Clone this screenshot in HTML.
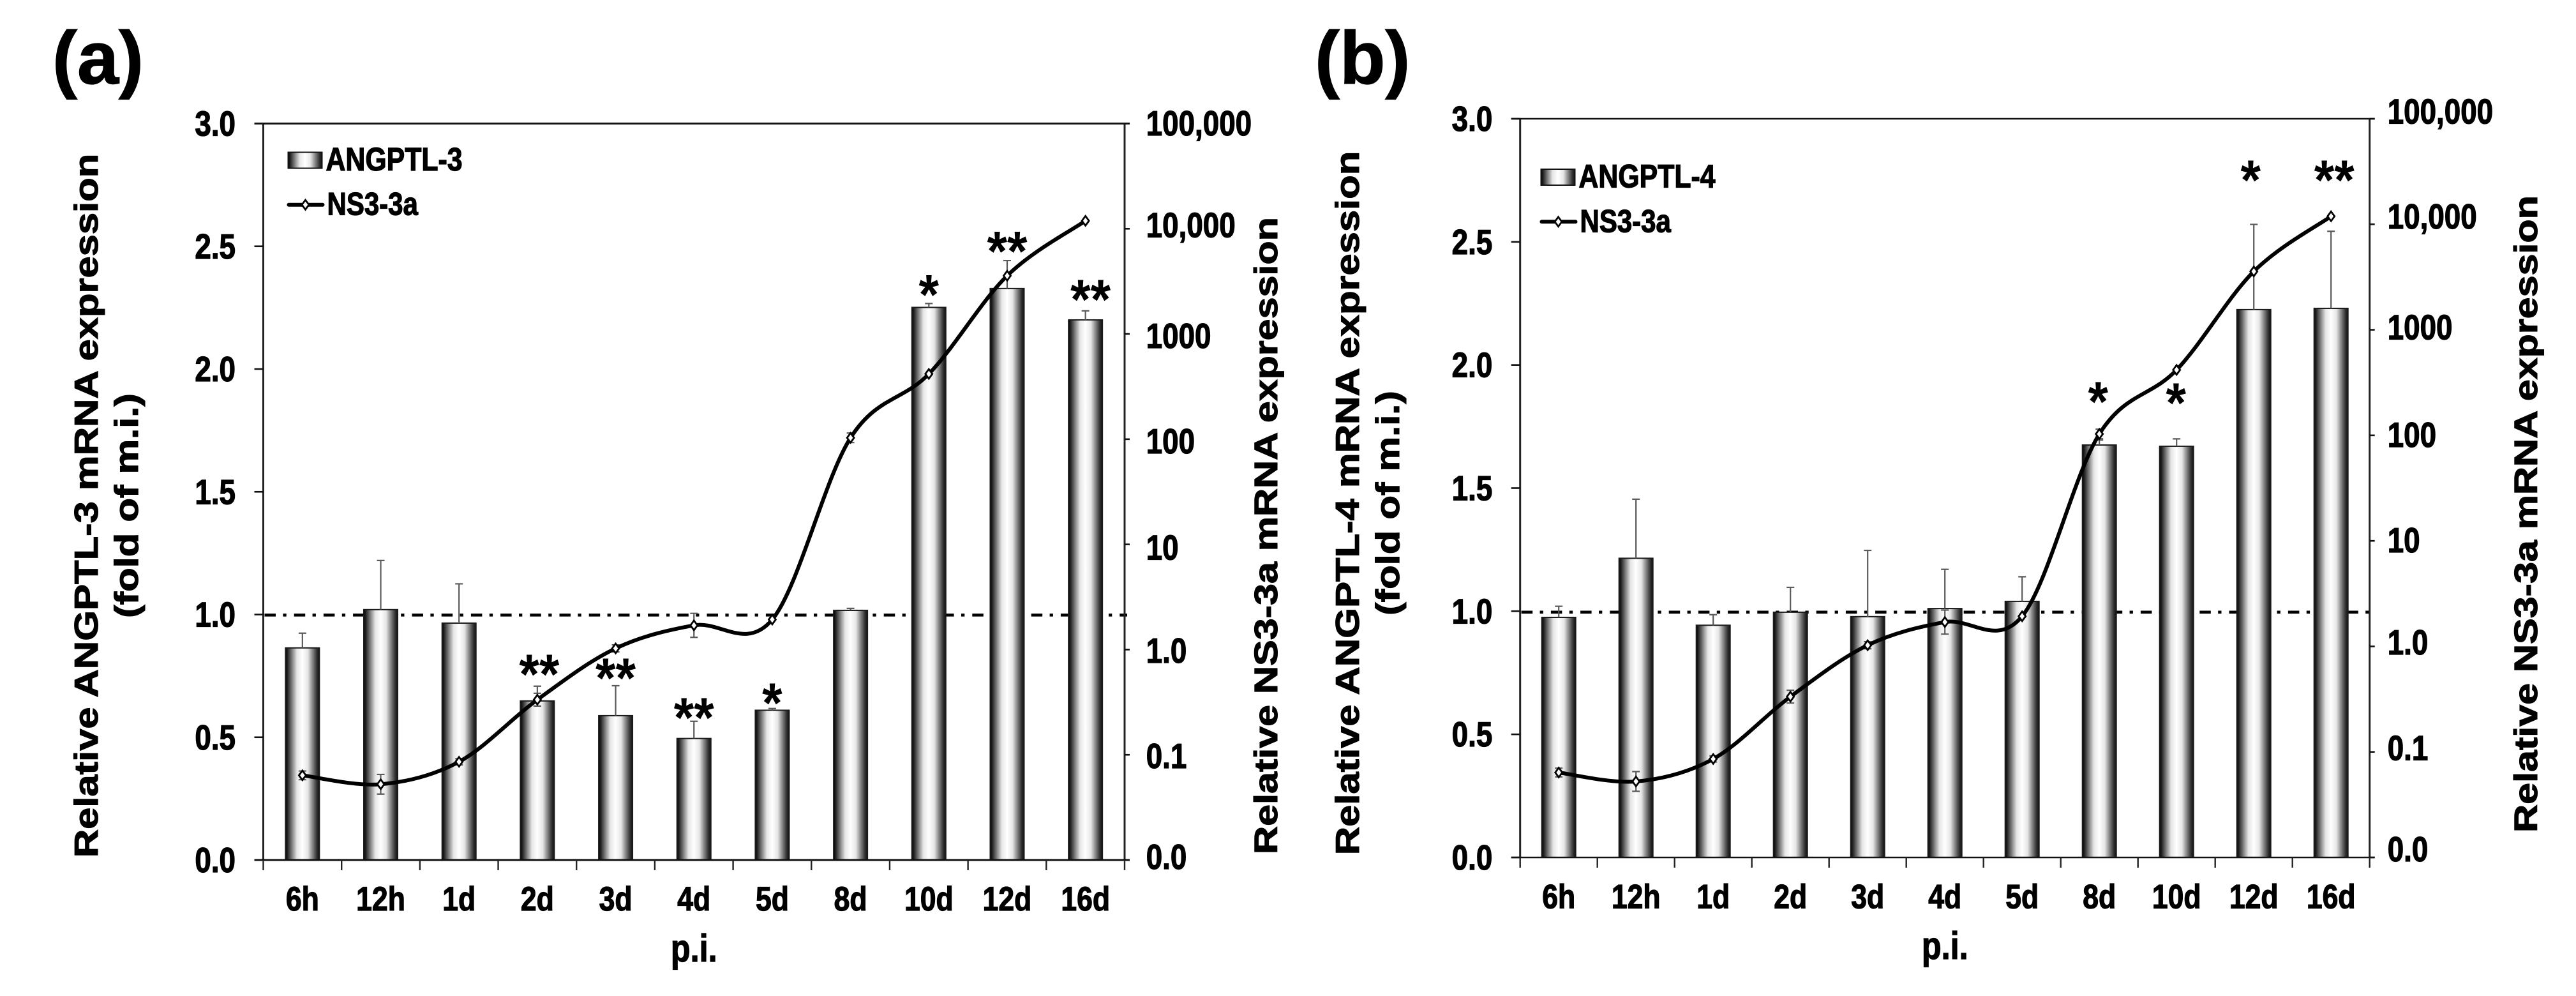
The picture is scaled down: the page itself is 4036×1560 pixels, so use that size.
<!DOCTYPE html>
<html lang="en">
<head>
<meta charset="utf-8">
<title>ANGPTL-3 and ANGPTL-4 mRNA expression with NS3-3a</title>
<style>
html,body{margin:0;padding:0;background:#fff;width:4036px;height:1560px;overflow:hidden}
svg{display:block}
text{font-family:"Liberation Sans",Arial,sans-serif;font-weight:bold;fill:#000;stroke:#000;stroke-width:1.3px}
</style>
</head>
<body>
<svg id="figure" xmlns="http://www.w3.org/2000/svg" width="4036" height="1560" viewBox="0 0 4036 1560">
<defs>
<linearGradient id="barGrad" x1="0" y1="0" x2="1" y2="0">
<stop offset="0" stop-color="#000"/>
<stop offset="0.07" stop-color="#2a2a2a"/>
<stop offset="0.2" stop-color="#858585"/>
<stop offset="0.34" stop-color="#e6e6e6"/>
<stop offset="0.5" stop-color="#fff"/>
<stop offset="0.66" stop-color="#e6e6e6"/>
<stop offset="0.8" stop-color="#858585"/>
<stop offset="0.93" stop-color="#2f2f2f"/>
<stop offset="1" stop-color="#111"/>
</linearGradient>
</defs>
</svg>
<script>
var categories = ['6h','12h','1d','2d','3d','4d','5d','8d','10d','12d','16d'];
var leftTickLabels = ['0.0','0.5','1.0','1.5','2.0','2.5','3.0'];
var leftTickValues = [0,0.5,1,1.5,2,2.5,3];
var rightTickLabels = ['0.0','0.1','1.0','10','100','1000','10,000','100,000'];
var rightTickValues = [0.01,0.1,1,10,100,1000,10000,100000];

var barValuesA = [0.864,1.02,0.965,0.648,0.588,0.495,0.61,1.017,2.251,2.328,2.2];
var barErrorsA = [0.06,0.2,0.16,0.06,0.122,0.07,0.007,0.008,0.016,0.114,0.037];
var starsA = ['','','','**','**','**','*','','*','**','**'];
var starLevelsA = [0,0,0,0.754,0.739,0.578,0.637,0,2.30,2.477,2.281];

var barValuesB = [0.975,1.215,0.943,0.996,0.978,1.011,1.04,1.675,1.67,2.225,2.23];
var barErrorsB = [0.045,0.24,0.043,0.101,0.269,0.159,0.1,0.02,0.03,0.346,0.313];
var starsB = ['','','','','','','','*','*','*','**'];
var starLevelsB = [0,0,0,0,0,0,0,1.849,1.844,2.749,2.749];

var ns3Values = [0.0638,0.0525,0.0858,0.334,1.026,1.7,1.93,103,417,3575,11900];
var ns3ErrorFactors = [1.10,1.24,1.07,1.15,1.08,1.30,1,1.11,1,1,1];

var referenceLevel = 1;

var SVGNS = 'http://www.w3.org/2000/svg';
var SX = 0.84;
var root = document.getElementById('figure');

function mk(tag, attrs, parent) {
  var el = document.createElementNS(SVGNS, tag);
  for (var k in attrs) { el.setAttribute(k, attrs[k]); }
  parent.appendChild(el);
  return el;
}
function txt(parent, str, x, y, size, anchor, sx, rot) {
  var el = mk('text', {
    'font-size': size,
    'text-anchor': anchor || 'start',
    transform: 'translate(' + x + ',' + y + ') scale(' + (sx || SX) + ',1)' + (rot ? ' rotate(' + rot + ')' : '')
  }, parent);
  el.textContent = str;
  return el;
}
function smoothPath(pts) {
  var d = 'M' + pts[0][0].toFixed(2) + ' ' + pts[0][1].toFixed(2);
  for (var i = 0; i < pts.length - 1; i++) {
    var p0 = pts[Math.max(i - 1, 0)], p1 = pts[i], p2 = pts[i + 1], p3 = pts[Math.min(i + 2, pts.length - 1)];
    var c1x = p1[0] + (p2[0] - p0[0]) / 6, c1y = p1[1] + (p2[1] - p0[1]) / 6;
    var c2x = p2[0] - (p3[0] - p1[0]) / 6, c2y = p2[1] - (p3[1] - p1[1]) / 6;
    d += 'C' + c1x.toFixed(2) + ' ' + c1y.toFixed(2) + ' ' + c2x.toFixed(2) + ' ' + c2y.toFixed(2) + ' ' + p2[0].toFixed(2) + ' ' + p2[1].toFixed(2);
  }
  return d;
}
function diamondPath(cx, cy) {
  return 'M' + cx + ' ' + (cy - 7.5) + 'L' + (cx + 5.5) + ' ' + cy + 'L' + cx + ' ' + (cy + 7.5) + 'L' + (cx - 5.5) + ' ' + cy + 'Z';
}

function drawPanel(cfg) {
  var g = mk('g', {}, root);
  
  

  var L = cfg.left, R = cfg.right, T = cfg.top, B = cfg.bottom;
  var slot = (R - L) / categories.length;
  var barW = 53;
  function xCat(i) { return L + slot * (i + 0.5); }
  function yLeft(v) { return B - (v / 3) * (B - T); }
  function yRight(v) { return B - ((Math.log(v) / Math.LN10 + 2) / 7) * (B - T); }

  // panel letter
  var letter = txt(g, cfg.letter, cfg.letterX, 131, 117, 'start', 1);
  
  

  // reference line, behind bars
  var ref = mk('line', {
    x1: L + 2, x2: R + 4, y1: yLeft(referenceLevel) + cfg.refNudge, y2: yLeft(referenceLevel) + cfg.refNudge,
    stroke: '#000', 'stroke-width': 4.6, 'stroke-dasharray': '17.5 11.4 5.3 12'
  }, g);
  
  

  // bars and their error bars
  categories.forEach(function (c, i) {
    var x = xCat(i), y = yLeft(cfg.bars[i]);
    var bar = mk('rect', { x: x - barW / 2, y: y, width: barW, height: B - y, fill: 'url(#barGrad)', stroke: '#1a1a1a', 'stroke-width': 2 }, g);
    
    
    var top = yLeft(cfg.bars[i] + cfg.errs[i]);
    var err = mk('path', { d: 'M' + x + ' ' + y + 'V' + top + 'M' + (x - 6) + ' ' + top + 'H' + (x + 6), fill: 'none', stroke: '#5a5a5a', 'stroke-width': 2.2 }, g);
    
    
  });

  // axes
  var axes = mk('path', {
    d: 'M' + L + ' ' + T + 'V' + B + 'M' + R + ' ' + T + 'V' + B,
    fill: 'none', stroke: '#222', 'stroke-width': 3
  }, g);
  
  
  var frame = mk('path', {
    d: 'M' + (L - 14) + ' ' + T + 'H' + (R + 8) + 'M' + (L - 14) + ' ' + B + 'H' + (R + 8),
    fill: 'none', stroke: '#111', 'stroke-width': cfg.frameW
  }, g);
  
  

  // left ticks
  leftTickValues.forEach(function (v, i) {
    var y = yLeft(v);
    var t = mk('line', { x1: L - 14, x2: L, y1: y, y2: y, stroke: '#111', 'stroke-width': 2.6 }, g);
    
    
    var lb = txt(g, leftTickLabels[i], cfg.leftLabelX, y + 19, 54.5, 'end');
    
    
  });
  // right ticks
  rightTickValues.forEach(function (v, i) {
    var y = yRight(v);
    var t = mk('line', { x1: R, x2: R + 8, y1: y, y2: y, stroke: '#111', 'stroke-width': 2.6 }, g);
    
    
    var lb = txt(g, rightTickLabels[i], cfg.rightLabelX, y + cfg.rightLabelShift[i], 54.5, 'start');
    
    
  });
  // category ticks and labels
  for (var k = 0; k <= categories.length; k++) {
    var tx = L + slot * k;
    var ct = mk('line', { x1: tx, x2: tx, y1: B, y2: B + 16, stroke: '#222', 'stroke-width': 2.4 }, g);
    
    
  }
  categories.forEach(function (c, i) {
    var lb = txt(g, c, xCat(i), B + cfg.catDrop, 53, 'middle');
    
    
  });

  // NS3-3a error bars
  ns3Values.forEach(function (v, i) {
    var f = ns3ErrorFactors[i];
    if (f <= 1) { return; }
    var x = xCat(i), hi = yRight(v * f), lo = yRight(v / f);
    var e = mk('path', { d: 'M' + x + ' ' + hi + 'V' + lo + 'M' + (x - 6) + ' ' + hi + 'H' + (x + 6) + 'M' + (x - 6) + ' ' + lo + 'H' + (x + 6), fill: 'none', stroke: '#5a5a5a', 'stroke-width': 2.2 }, g);
    
    
  });

  // NS3-3a smooth line
  var pts = ns3Values.map(function (v, i) { return [xCat(i), yRight(v)]; });
  var line = mk('path', { d: smoothPath(pts), fill: 'none', stroke: '#000', 'stroke-width': 6, 'stroke-linecap': 'round' }, g);
  
  
  pts.forEach(function (p, i) {
    var m = mk('path', { d: diamondPath(p[0], p[1]), fill: '#fff', stroke: '#000', 'stroke-width': 2.8 }, g);
    
    
  });

  // significance stars
  cfg.stars.forEach(function (s, i) {
    if (!s) { return; }
    var st = txt(g, s, xCat(i) + cfg.starDx[i], yLeft(cfg.starLevels[i]) + 29, 88, 'middle', 0.92);
    st.style.strokeWidth = '0';
    
    
  });

  // titles
  var t1 = txt(g, cfg.leftTitle, cfg.leftTitleX, cfg.leftTitleY, 61.5, 'middle', SX, -90);
  
  
  var t2 = txt(g, '(fold of m.i.)', cfg.subTitleX, cfg.leftTitleY, 61.5, 'middle', SX, -90);
  
  
  var t3 = txt(g, 'Relative NS3-3a mRNA expression', cfg.rightTitleX, cfg.rightTitleY, 61, 'middle', SX, -90);
  
  
  var t4 = txt(g, 'p.i.', (L + R) / 2, cfg.xTitleY, 60, 'middle');
  
  

  // legend
  var sw = mk('rect', { x: cfg.legX, y: cfg.legBarY, width: 53, height: 25, fill: 'url(#barGrad)', stroke: '#111', 'stroke-width': 2 }, g);
  
  
  var lt1 = txt(g, cfg.barName, cfg.legX + 59, cfg.legBarY + 28.5, 51, 'start');
  
  
  var ll = mk('line', { x1: cfg.legX + 1, x2: cfg.legX + 54, y1: cfg.legLineY, y2: cfg.legLineY, stroke: '#000', 'stroke-width': 6, 'stroke-linecap': 'round' }, g);
  
  
  var lm = mk('path', { d: diamondPath(cfg.legX + 27, cfg.legLineY), fill: '#fff', stroke: '#000', 'stroke-width': 2.8 }, g);
  
  
  var lt2 = txt(g, 'NS3-3a', cfg.legX + 61, cfg.legLineY + 16, 50, 'start');
  
  
}

drawPanel({
  id: 'a', letter: '(a)', letterX: 82,
  left: 412.5, right: 1762, top: 193.5, bottom: 1347,
  bars: barValuesA, errs: barErrorsA, stars: starsA, starLevels: starLevelsA,
  starDx: [0,0,0,3,0,0,0,0,0,0,8],
  refNudge: 0.8, frameW: 3,
  leftLabelX: 369, rightLabelX: 1795.7,
  rightLabelShift: [14,20.8,20.5,24,22,21.8,13.2,18.5],
  catDrop: 79, xTitleY: 1506,
  leftTitle: 'Relative ANGPTL-3 mRNA expression',
  leftTitleX: 153, leftTitleY: 792, subTitleX: 216,
  rightTitleX: 2001, rightTitleY: 839,
  barName: 'ANGPTL-3', legX: 451.5, legBarY: 238.5, legLineY: 320.7
});
drawPanel({
  id: 'b', letter: '(b)', letterX: 2060,
  left: 2381.7, right: 3712.7, top: 186, bottom: 1343,
  bars: barValuesB, errs: barErrorsB, stars: starsB, starLevels: starLevelsB,
  starDx: [0,0,0,0,0,0,0,-2,-1,-5,5],
  refNudge: 1.5, frameW: 2.6,
  leftLabelX: 2338.3, rightLabelX: 3740.7,
  rightLabelShift: [6,13,12.6,18,18,15,6.7,7.3],
  catDrop: 79.7, xTitleY: 1502,
  leftTitle: 'Relative ANGPTL-4 mRNA expression',
  leftTitleX: 2129, leftTitleY: 788, subTitleX: 2192,
  rightTitleX: 3975, rightTitleY: 805,
  barName: 'ANGPTL-4', legX: 2414.5, legBarY: 265, legLineY: 347.3
});
</script>
</body>
</html>
